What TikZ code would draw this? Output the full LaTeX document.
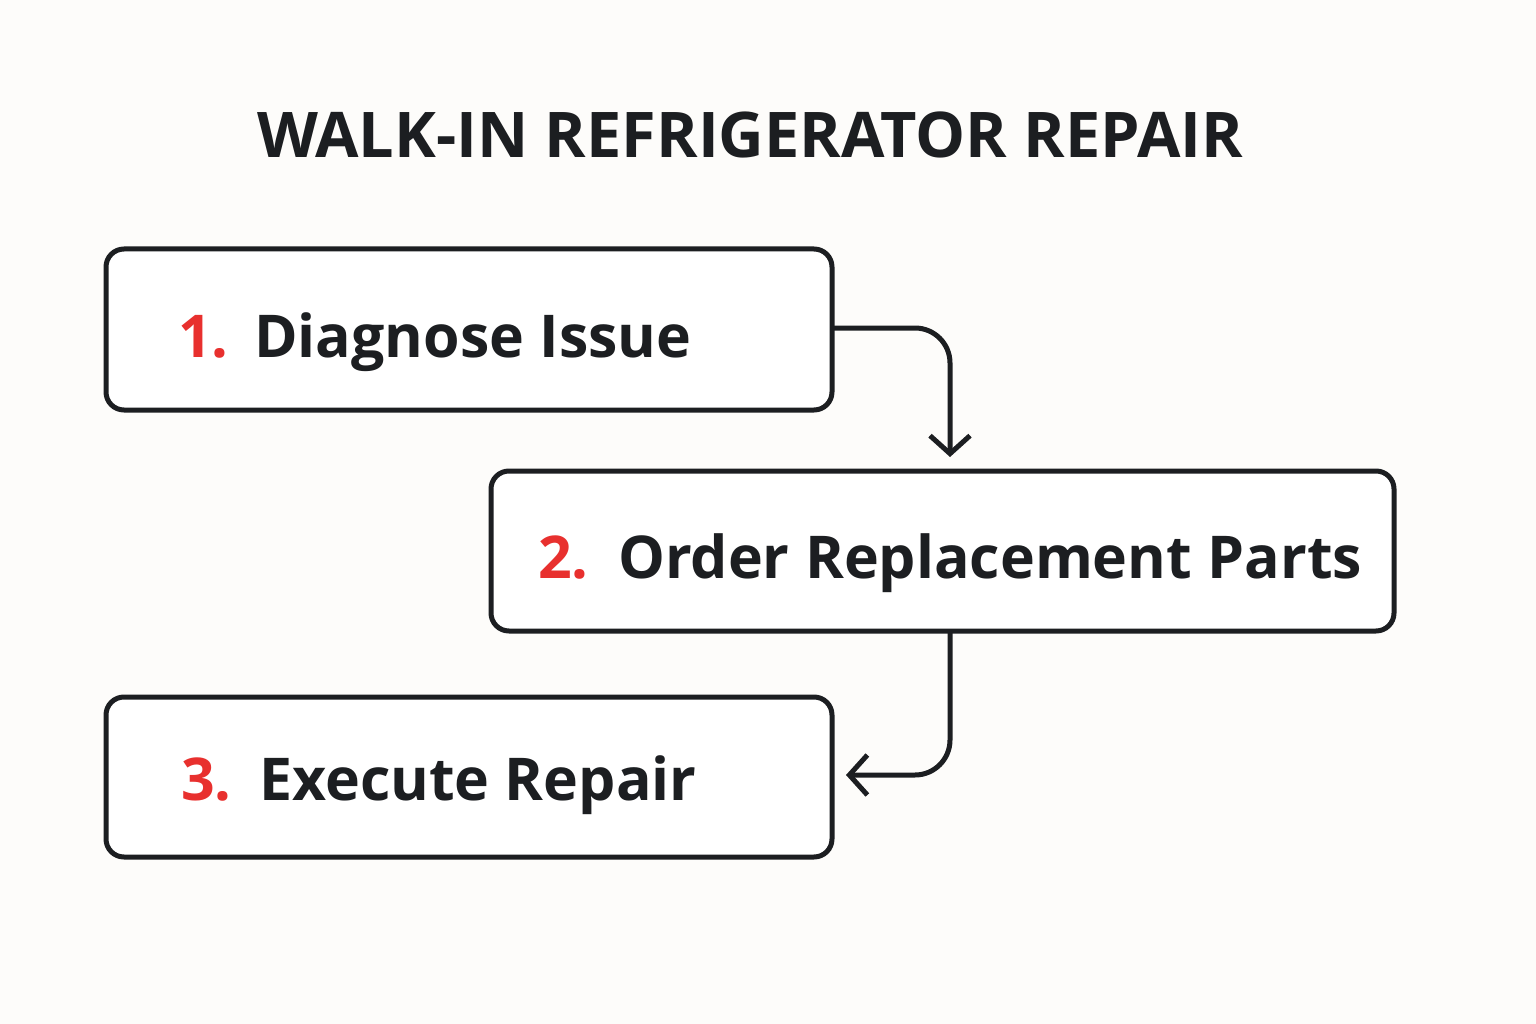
\documentclass[tikz,border=0pt]{standalone}
\usepackage{fontspec}
\setmainfont{Open Sans}
\usetikzlibrary{arrows.meta}
\definecolor{ink}{HTML}{1C1E21}
\definecolor{numred}{HTML}{E8302E}
\definecolor{bg}{HTML}{FDFCFA}
\begin{document}
\begin{tikzpicture}[x=1pt,y=-1pt,
  box/.style={draw=ink,line width=5pt,rounded corners=18pt,fill=white},
  num/.style={anchor=base west,text=numred,font=\fontsize{59}{66}\selectfont\bfseries,inner sep=0},
  lab/.style={anchor=base west,text=ink,font=\fontsize{59}{66}\selectfont\bfseries,inner sep=0},
  conn/.style={draw=ink,line width=5pt,rounded corners=35pt,-{Straight Barb[length=18pt,width=40pt,line width=5pt]}}]
\fill[bg] (0,0) rectangle (1536,1024);
\useasboundingbox (0,0) rectangle (1536,1024);
\node[anchor=center,text=ink,font=\fontsize{63}{70}\selectfont\bfseries,inner sep=0] (title) at (750,135) {WALK-IN REFRIGERATOR REPAIR};
\draw[box] (106,249) rectangle (832,410);
\coordinate (b1e) at (832,328);
\draw[box] (491,471) rectangle (1394,631);
\coordinate (b2s) at (950,631);
\draw[box] (106,697) rectangle (832,857);
\coordinate (b3e) at (846,775);
\coordinate (b2n) at (950,457);
\node[num] (n1) at (178,357) {1.};
\node[lab] (t1) at (254,357) {Diagnose Issue};
\node[num] (n2) at (538,578) {2.};
\node[lab] (t2) at (618,578) {Order Replacement Parts};
\node[num] (n3) at (181,800) {3.};
\node[lab] (t3) at (259,800) {Execute Repair};
\draw[conn] (b1e) -| (b2n);
\draw[conn] (b2s) |- (b3e);
\end{tikzpicture}
\end{document}
